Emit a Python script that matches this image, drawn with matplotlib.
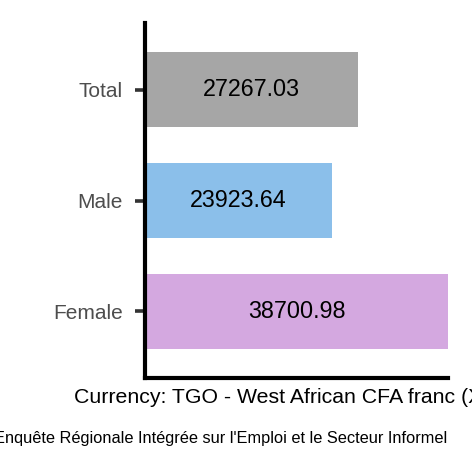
import matplotlib
matplotlib.use("Agg")
from matplotlib import pyplot as plt

plt.rcParams["font.family"] = ["Liberation Sans", "DejaVu Sans"]

# data
categories = ["Female", "Male", "Total"]
values = [38700.98, 23923.64, 27267.03]
colors = ["#d4a8e0", "#8bbfea", "#a6a6a6"]
x_title = "Currency: TGO - West African CFA franc (XOF)"
source = "Source: Enquête Régionale Intégrée sur l'Emploi et le Secteur Informel"

fig = plt.figure(figsize=(4.72, 4.72), dpi=100)
ax = fig.add_axes([145 / 472, 1 - 378 / 472, 303 / 472, 355 / 472])

pos = list(range(len(categories)))
ax.barh(pos, values, height=0.68, color=colors)
for p, v in zip(pos, values):
    ax.text(v / 2, p, f"{v:.2f}", ha="center", va="center", fontsize=16.8, color="black")

ax.set_xlim(0, max(values))
ax.set_ylim(-0.6, len(categories) - 0.4)
ax.set_yticks(pos)
ax.set_yticklabels(categories, fontsize=15, color="#4d4d4d")
ax.set_xticks([])
ax.tick_params(axis="y", length=7, width=2.6, color="#333333", pad=9)

for side in ["top", "right"]:
    ax.spines[side].set_visible(False)
for side in ["left", "bottom"]:
    ax.spines[side].set_linewidth(3)
    ax.spines[side].set_color("black")

ax.set_xlabel(x_title, fontsize=15.3, labelpad=7)
fig.text(447 / 472, 1 - 438 / 472, source, ha="right", va="center", fontsize=11.8)

fig.savefig("out.png", dpi=100)
